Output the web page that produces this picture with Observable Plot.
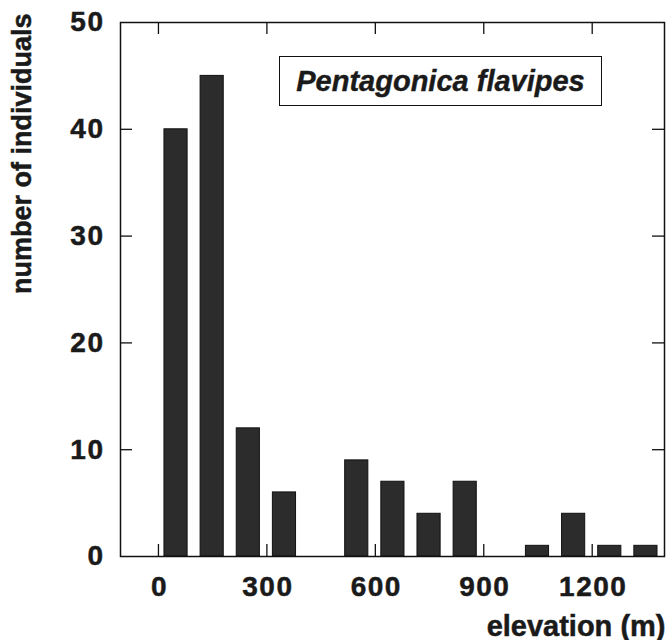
<!DOCTYPE html>
<html>
<head>
<meta charset="utf-8">
<script src="https://cdn.jsdelivr.net/npm/d3@7"></script>
<script src="https://cdn.jsdelivr.net/npm/@observablehq/plot@0.6"></script>
<style>
  html, body { margin: 0; padding: 0; background: #fff; }
  #wrap { position: relative; width: 666px; height: 640px; }
  #legend {
    position: absolute; left: 279px; top: 56px; width: 321px; height: 48px;
    border: 1.5px solid #111; box-sizing: content-box;
    font-family: "Liberation Sans", Arial, sans-serif; font-weight: bold; font-style: italic;
    font-size: 29px; color: #1a1a1a; display: flex; align-items: center; justify-content: center;
    -webkit-text-stroke: 0.4px #1a1a1a;
  }
  .ticklbl text { letter-spacing: 1.5px; }
  #wrap svg text { stroke: #1a1a1a; stroke-width: 0.5px; }
</style>
</head>
<body>
<div id="wrap"></div>
<script>
// Data: elevation bins (start of each 100 m bin) and counts
const binStart = [0, 100, 200, 300, 400, 500, 600, 700, 800, 900, 1000, 1100, 1200, 1300];
const counts   = [40, 45, 12, 6, 0, 9, 7, 4, 7, 0, 1, 4, 1, 1];
const binWidth = 100;
const xTicks = [0, 300, 600, 900, 1200];
const yTicks = [0, 10, 20, 30, 40, 50];
const yInnerTicks = [10, 20, 30, 40];
const xLabel = "elevation (m)";
const yLabel = "number of individuals";
const speciesLabel = "Pentagonica flavipes";

const data = binStart.map((s, i) => ({start: s, end: s + binWidth, count: counts[i]})).filter(d => d.count > 0);

const ink = "#111";
const chart = Plot.plot({
  width: 666,
  height: 640,
  marginTop: 22,
  marginBottom: 84,
  marginLeft: 120,
  marginRight: 2,
  style: {fontFamily: "'Liberation Sans', Arial, sans-serif", fontWeight: "bold", fontSize: "28px", color: "#1a1a1a", background: "#fff"},
  x: {domain: [-105, 1400]},
  y: {domain: [0, 50]},
  marks: [
    Plot.rectY(data, {x1: "start", x2: "end", y: "count", insetLeft: 6, insetRight: 7, fill: "#2c2c2c", stroke: ink, strokeWidth: 1}),
    Plot.frame({stroke: ink, strokeWidth: 1.5}),
    // inward ticks on all four sides
    Plot.tickX(xTicks, {x: d => d, insetTop: 522, stroke: ink, strokeWidth: 1.3}),
    Plot.tickX(xTicks, {x: d => d, insetBottom: 522, stroke: ink, strokeWidth: 1.3}),
    Plot.tickY(yInnerTicks, {y: d => d, insetRight: 532, stroke: ink, strokeWidth: 1.3}),
    Plot.tickY(yInnerTicks, {y: d => d, insetLeft: 532, stroke: ink, strokeWidth: 1.3}),
    Plot.axisX(xTicks, {tickSize: 0, tickPadding: 20, label: null, fontSize: 28, tickFormat: d => String(d), className: "ticklbl", dx: 1}),
    Plot.axisY(yTicks, {tickSize: 0, tickPadding: 16, label: null, fontSize: 28, tickFormat: d => String(d), className: "ticklbl"}),
    Plot.text([yLabel], {text: d => d, frameAnchor: "top-left", dx: -98, dy: -9, rotate: -90, textAnchor: "end", lineAnchor: "middle", fontSize: 27, fontWeight: "bold"}),
    Plot.text([xLabel], {text: d => d, frameAnchor: "bottom-right", dx: 1, dy: 79, textAnchor: "end", lineAnchor: "bottom", fontSize: 29, fontWeight: "bold"})
  ]
});

const wrap = document.getElementById("wrap");
wrap.appendChild(chart);
const legend = document.createElement("div");
legend.id = "legend";
legend.textContent = speciesLabel;
wrap.appendChild(legend);
</script>
</body>
</html>
